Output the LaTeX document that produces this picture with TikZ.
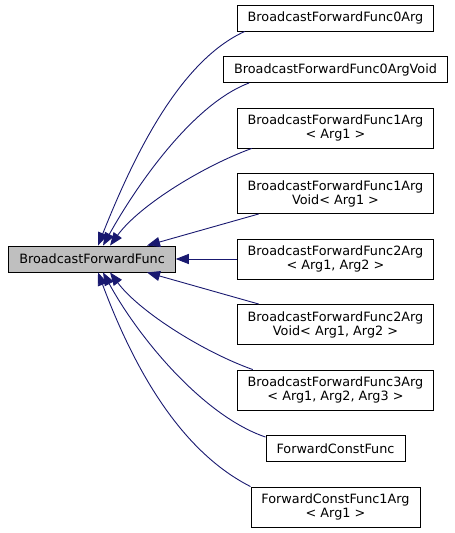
\documentclass[tikz,border=0pt]{standalone}
\usepackage{fontspec}
\setmainfont{DejaVu Sans}
\usetikzlibrary{positioning,arrows.meta,calc}
\definecolor{edgeblue}{HTML}{191970}
\definecolor{basegray}{HTML}{BFBFBF}

\begin{document}
\begin{tikzpicture}[x=1pt,y=-1pt,align=center,node distance=24.6pt,
	font=\fontsize{12.8}{14}\selectfont,
	cls/.style={draw=black,fill=white,line width=0.9pt,inner xsep=10.5pt,inner ysep=0pt,minimum height=26pt},
	cls2/.style={cls,minimum height=40pt},
	inh/.style={draw=edgeblue,line width=0.9pt,-{Triangle[length=13pt,width=10pt,fill=edgeblue]}}]
	\useasboundingbox (0,0) rectangle (455,533);
	% derived classes
	\node[cls] (A0) at (335.5,18) {BroadcastForwardFunc0Arg};
	\node[cls,below=of A0] (A0V) {BroadcastForwardFunc0ArgVoid};
	\node[cls2,below=of A0V] (A1) {BroadcastForwardFunc1Arg\\< Arg1 >};
	\node[cls2,below=of A1] (A1V) {BroadcastForwardFunc1Arg\\Void< Arg1 >};
	\node[cls2,below=of A1V] (A2) {BroadcastForwardFunc2Arg\\< Arg1, Arg2 >};
	\node[cls2,below=of A2] (A2V) {BroadcastForwardFunc2Arg\\Void< Arg1, Arg2 >};
	\node[cls2,below=of A2V] (A3) {BroadcastForwardFunc3Arg\\< Arg1, Arg2, Arg3 >};
	\node[cls,below=of A3] (FCF) {ForwardConstFunc};
	\node[cls2,below=of FCF] (FCF1) {ForwardConstFunc1Arg\\< Arg1 >};
	% base class
	\node[cls,fill=basegray,left=61pt of A2] (BFF) {BroadcastForwardFunc};
	% inheritance
	\draw[inh] ($(A0.south west)+(8,0)$) .. controls +(-64,29) and +(37,-93) .. ($(BFF.north)+(6,0)$);
	\draw[inh] ($(A0V.south west)+(26,0)$) .. controls +(-56,21) and +(34,-61) .. ($(BFF.north)+(11,0)$);
	\draw[inh] ($(A1.south west)+(15,0)$) .. controls +(-47,17) and +(30,-41) .. ($(BFF.north)+(18,0)$);
	\draw[inh] ($(A1V.south west)+(22,0)$) -- ($(BFF.north)+(55,0)$);
	\draw[inh] (A2) -- (BFF);
	\draw[inh] ($(A2V.north west)+(22,0)$) -- ($(BFF.south)+(55,0)$);
	\draw[inh] ($(A3.north west)+(16,0)$) .. controls +(-48,-17) and +(30,40) .. ($(BFF.south)+(18,0)$);
	\draw[inh] ($(FCF.north west)+(0,2)$) .. controls +(-62,-21) and +(36,66) .. ($(BFF.south)+(11,0)$);
	\draw[inh] (FCF1.north west) .. controls +(-67,-34) and +(38.5,103) .. ($(BFF.south)+(6,0)$);
\end{tikzpicture}
\end{document}
